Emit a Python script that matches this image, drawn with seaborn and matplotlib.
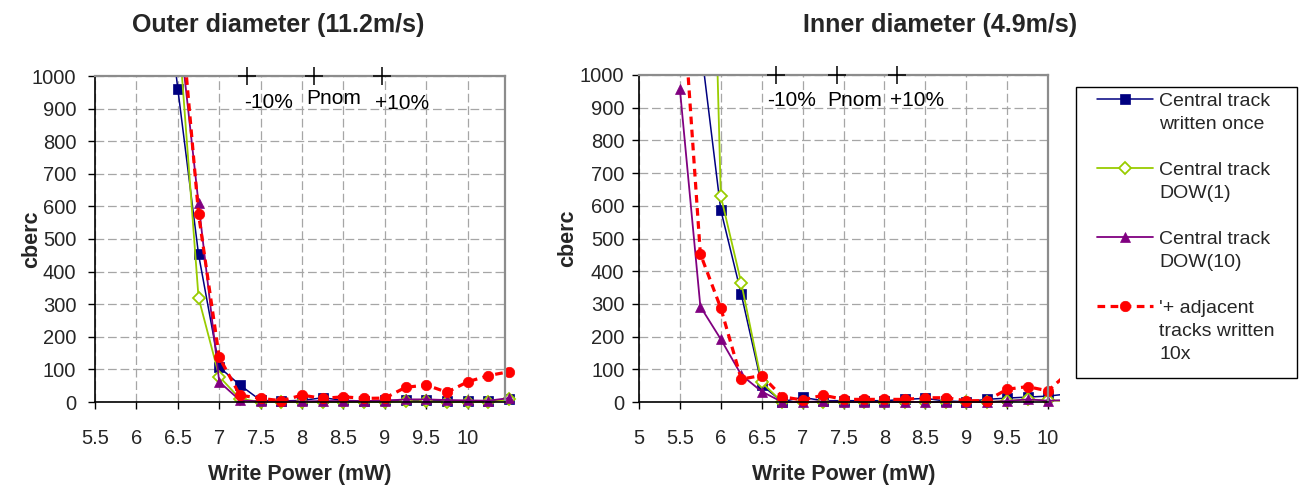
import numpy as np
import pandas as pd
import matplotlib
matplotlib.use("Agg")
import matplotlib.pyplot as plt
import seaborn as sns
from matplotlib.lines import Line2D
from matplotlib.patches import Rectangle
from matplotlib.transforms import Bbox, TransformedBbox

# --- data ------------------------------------------------------------------
series_names = ["Central track\nwritten once", "Central track\nDOW(1)",
                "Central track\nDOW(10)", "'+ adjacent\ntracks written\n10x"]

# outer diameter (11.2 m/s)
x_outer = [6.25, 6.5, 6.75, 7.0, 7.25, 7.5, 7.75, 8.0, 8.25, 8.5, 8.75,
           9.0, 9.25, 9.5, 9.75, 10.0, 10.25, 10.5]
outer_once = [1500, 960, 453, 107, 52, 5, 3, 5, 13, 5, 3, 5, 5, 5, 3, 3, 2, 10]
outer_dow1 = [np.nan, 1170, 320, 78, 10, 0, 0, 0, 0, 0, 0, 0, 2, 2, 0, 0, 0, 8]
outer_dow10 = [np.nan, 1184, 609, 62, 5, 2, 2, 2, 3, 3, 3, 4, 8, 8, 6, 5, 4, 12]
outer_adj = [np.nan, 1300, 577, 137, 21, 11, 4, 21, 11, 16, 11, 12, 45, 52, 30, 62, 81, 93]

# inner diameter (4.9 m/s)
x_inner = [5.5, 5.75, 6.0, 6.25, 6.5, 6.75, 7.0, 7.25, 7.5, 7.75, 8.0,
           8.25, 8.5, 8.75, 9.0, 9.25, 9.5, 9.75, 10.0, 10.25]
inner_once = [np.nan, 1100, 587, 330, 52, 1, 14, 4, 4, 4, 4, 8, 11, 3, 1, 8, 12, 15, 18, 25]
inner_dow1 = [np.nan, 3000, 630, 364, 60, 0, 0, 0, 0, 0, 0, 0, 0, 0, 0, 0, 3, 8, 5, 3]
inner_dow10 = [957, 292, 192, 83, 32, 0, 0, 2, 0, 0, 0, 0, 0, 0, 0, 0, 3, 8, 4, 6]
inner_adj = [1365, 453, 287, 70, 81, 16, 6, 21, 8, 8, 8, 8, 13, 13, 4, 4, 39, 47, 34, 90]

# nominal power markers (-10%, Pnom, +10%)
pct_labels = ["-10%", "Pnom", "+10%"]
outer_pnom = [7.34, 8.15, 8.97]
inner_pnom = [6.68, 7.42, 8.16]

outer_ticks = [5.5, 6, 6.5, 7, 7.5, 8, 8.5, 9, 9.5, 10]
outer_ticklabels = ["5.5", "6", "6.5", "7", "7.5", "8", "8.5", "9", "9.5", "10"]
inner_ticks = [5, 5.5, 6, 6.5, 7, 7.5, 8, 8.5, 9, 9.5, 10]
inner_ticklabels = ["5", "5.5", "6", "6.5", "7", "7.5", "8", "8.5", "9", "9.5", "10"]
y_ticks = list(range(0, 1001, 100))

# --- style -------------------------------------------------------------------
sns.set_theme(style="white")
plt.rcParams["font.family"] = ["Liberation Sans", "DejaVu Sans"]

colors = ["#000080", "#99CC00", "#800080", "#FF0000"]
styles = [
    dict(marker="s", ms=6.5, mfc=colors[0], mec=colors[0], mew=0.5, lw=1.1, ls="-"),
    dict(marker="D", ms=6.5, mfc="white", mec=colors[1], mew=1.3, lw=1.3, ls="-"),
    dict(marker="^", ms=7.5, mfc=colors[2], mec=colors[2], mew=0.5, lw=1.3, ls="-"),
    dict(marker="o", ms=7.5, mfc=colors[3], mec=colors[3], mew=0.5, lw=2.3, ls=(0, (2.4, 1.7))),
]

fig = plt.figure(figsize=(12.99, 4.88), dpi=100)
ax1 = fig.add_axes([95 / 1299, 86 / 488, 410 / 1299, 326 / 488])
ax2 = fig.add_axes([639 / 1299, 86 / 488, 409 / 1299, 327 / 488])


def draw_panel(ax, x, ys, pnom, xlim, ticks, ticklabels, ytick_pad, label_dx):
    for y, c, st in zip(ys, colors, styles):
        df = pd.DataFrame({"x": x, "y": y}).dropna()
        sns.lineplot(data=df, x="x", y="y", ax=ax, color=c, estimator=None,
                     sort=False, legend=False, marker=st["marker"], markersize=st["ms"],
                     markerfacecolor=st["mfc"], markeredgecolor=st["mec"],
                     markeredgewidth=st["mew"], linewidth=st["lw"], linestyle=st["ls"])
    clip = TransformedBbox(Bbox([[-0.01, -0.05], [1.03, 1.0]]), ax.transAxes)
    for ln in ax.lines:
        ln.set_clip_box(clip)

    ax.set_xlim(*xlim)
    ax.set_ylim(0, 1000)
    ax.set_xticks(ticks)
    ax.set_xticklabels(ticklabels)
    ax.set_yticks(y_ticks)
    ax.grid(True, color="#a6a6a6", linestyle=(0, (7, 3)), linewidth=0.9)
    ax.set_axisbelow(True)
    for side in ["left", "bottom"]:
        ax.spines[side].set_color("black")
        ax.spines[side].set_linewidth(1.2)
    for side in ["top", "right"]:
        ax.spines[side].set_color("#8c8c8c")
        ax.spines[side].set_linewidth(1.6)
    ax.tick_params(axis="x", direction="out", length=5, width=1, color="black",
                   labelsize=14.5, pad=14.5, bottom=True)
    ax.tick_params(axis="y", direction="out", length=5, width=1, color="black",
                   labelsize=14.5, pad=ytick_pad, left=True)

    # -10% / Pnom / +10% markers on the top edge
    ax.plot(pnom, [1000] * len(pnom), ls="none", marker="+", ms=13, mew=1.1,
            color="black", clip_on=False, zorder=5)
    for px, txt, (dx, dy) in zip(pnom, pct_labels, label_dx):
        ax.annotate(txt, xy=(px, 1000), xytext=(dx, dy), textcoords="offset points",
                    ha="center", va="center", fontsize=15, color="black")

    ax.set_xlabel("Write Power (mW)", fontsize=15.5, fontweight="bold")
    ax.set_ylabel("cberc", fontsize=15.5, fontweight="bold")
    ax.xaxis.label.set_va("center")
    ax.yaxis.label.set_va("center")


draw_panel(ax1, x_outer, [outer_once, outer_dow1, outer_dow10, outer_adj], outer_pnom,
           (5.5, 10.45), outer_ticks, outer_ticklabels, 8.5,
           [(15, -19), (14, -16), (14, -20)])
draw_panel(ax2, x_inner, [inner_once, inner_dow1, inner_dow10, inner_adj], inner_pnom,
           (5.0, 10.0), inner_ticks, inner_ticklabels, 5.5,
           [(11, -18), (13, -18), (14, -18)])

ax1.xaxis.set_label_coords(0.5, -0.221)
ax2.xaxis.set_label_coords(0.5, -0.221)
ax1.yaxis.set_label_coords(-0.154, 0.5)
ax2.yaxis.set_label_coords(-0.174, 0.5)

fig.text(278 / 1299, 1 - 25 / 488, "Outer diameter (11.2m/s)", ha="center", va="center",
         fontsize=18, fontweight="bold")
fig.text(940 / 1299, 1 - 25 / 488, "Inner diameter (4.9m/s)", ha="center", va="center",
         fontsize=18, fontweight="bold")

# legend: one entry per text line so the symbol sits next to the first line
handles, labels = [], []
for i, (name, c, st) in enumerate(zip(series_names, colors, styles)):
    lines = name.split("\n")
    handles.append(Line2D([], [], color=c, marker=st["marker"], ms=st["ms"],
                          mfc=st["mfc"], mec=st["mec"], mew=st["mew"],
                          lw=st["lw"], ls=st["ls"]))
    labels.append(lines[0])
    for extra in lines[1:]:
        handles.append(Line2D([], [], color="none"))
        labels.append(extra)
    if len(lines) < 3:
        handles.append(Line2D([], [], color="none"))
        labels.append("")

fig.legend(handles, labels, loc="upper left", bbox_to_anchor=(1097 / 1299, 1 - 92 / 488),
           frameon=False, fontsize=14, handlelength=2.9, handletextpad=0.3,
           labelspacing=0.28, borderpad=0, borderaxespad=0, numpoints=1)
fig.add_artist(Rectangle((1076 / 1299, 1 - 378 / 488), 221 / 1299, 291 / 488,
                         transform=fig.transFigure, fill=False, edgecolor="black",
                         linewidth=1.0))

fig.savefig("out.png", dpi=100)
